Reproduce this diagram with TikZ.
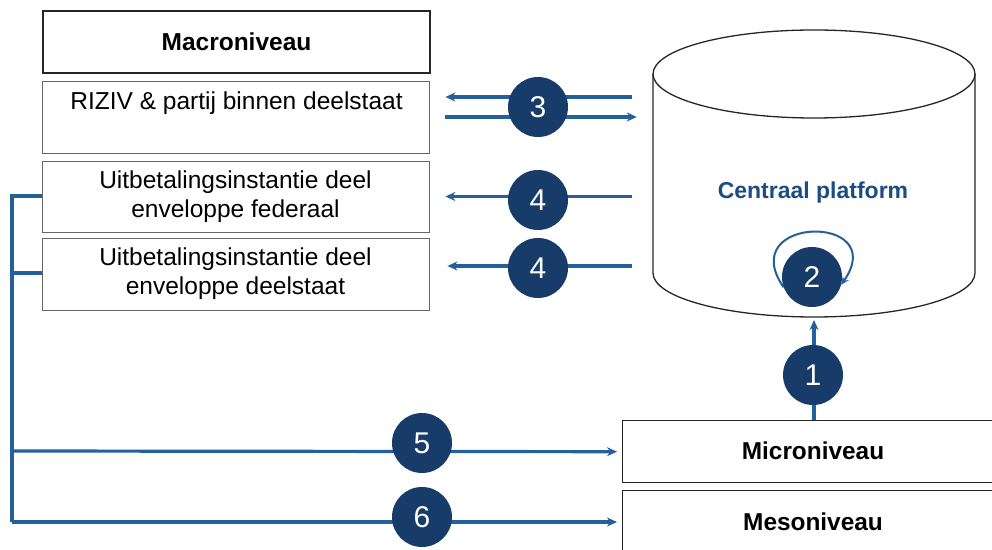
\documentclass[tikz,border=0pt]{standalone}
\usepackage{fontspec}
\setmainfont{Liberation Sans}
\usetikzlibrary{arrows.meta,calc}
\definecolor{navy}{RGB}{24,60,106}
\definecolor{lineblue}{RGB}{36,96,156}
\definecolor{txtblue}{RGB}{28,76,130}
\tikzset{
  x=1pt,y=1pt,
  titlebox/.style={draw=black!85,line width=1.4pt,minimum width=387pt,minimum height=62pt,inner sep=0pt,font=\fontsize{24.5}{28}\selectfont\bfseries},
  thinbox/.style={draw=black!60,line width=0.8pt,minimum width=387pt,inner sep=0pt,align=center,font=\fontsize{24.5}{29}\selectfont},
  lowbox/.style={draw=black!85,line width=1.4pt,minimum width=380pt,minimum height=62pt,inner sep=0pt,anchor=north west},
  lowtxt/.style={font=\fontsize{24.4}{28}\selectfont\bfseries},
  arr/.style={draw=lineblue,line width=3.2pt,-{Stealth[length=10pt,width=9pt]}},
  ln/.style={draw=lineblue,line width=3.2pt},
  num/.style={circle,fill=navy,text=white,minimum size=60pt,inner sep=0pt,font=\fontsize{30}{32}\selectfont},
  cylline/.style={draw=black!85,line width=1.3pt}
}
\begin{document}
\begin{tikzpicture}
\useasboundingbox (0,0) rectangle (992,549);
\clip (0,0) rectangle (992,549);
% left boxes
\node[titlebox] (macro) at (236.5,507) {Macroniveau};
\node[thinbox,minimum height=72pt] (riz) at (235.5,432) {};
\node[font=\fontsize{24.5}{29}\selectfont] (riztxt) at (236.5,446) {RIZIV \& partij binnen deelstaat};
\node[thinbox,minimum height=71pt] (fed) at (235.5,352.5) {Uitbetalingsinstantie deel\\enveloppe federaal};
\node[thinbox,minimum height=72pt] (deel) at (235.5,275) {Uitbetalingsinstantie deel\\enveloppe deelstaat};
% cylinder
\path[fill=white,cylline] (653,475) -- (653,276) arc[start angle=180,end angle=360,x radius=161,y radius=44] -- (975,475);
\draw[cylline] (814,475) ellipse[x radius=161,y radius=44];
\node[inner sep=0pt,minimum width=322pt,minimum height=199pt] (cyl) at (814,375.5) {};
\coordinate (cylbot) at (814,232);
\node[text=txtblue,font=\fontsize{23}{26}\selectfont\bfseries] (cp) at (813,356) {Centraal platform};
% bottom boxes
\node[lowbox] (micro) at (622,129) {};
\node[lowtxt] (microtxt) at (813,98) {Microniveau};
\node[lowbox,minimum height=80pt] (meso) at (622,59) {};
\node[lowtxt] (mesotxt) at (813,27) {Mesoniveau};
% arrows 3
\draw[arr] ([xshift=-21pt,yshift=20pt]riz.east -| cyl.west) -- ([xshift=16pt,yshift=20pt]riz.east);
\draw[arr] ([xshift=16pt]riz.east) -- ([xshift=-16pt]riz.east -| cyl.west);
% arrows 4
\draw[arr] ([xshift=-21pt]fed.east -| cyl.west) -- ([xshift=16pt]fed.east);
\draw[arr] ([xshift=-21pt,yshift=8pt]deel.east -| cyl.west) -- ([xshift=18pt,yshift=8pt]deel.east);
% arrow 1
\draw[arr] (micro.north -| cylbot) -- ([yshift=-3pt]cylbot);
% left bracket
\coordinate (lt) at (12,353);
\coordinate (lb) at (12,27);
\coordinate (lm) at (12,98);
\draw[ln] (fed.west |- lt) -- (lt) -- (lb);
\draw[ln] (deel.west) ++(0,1) -- (12,276);
\draw[arr] (lm) -- ([xshift=-5pt]micro.west);
\draw[arr] (lb) -- ([xshift=-5pt]lb -| meso.west);
% numbered circles
\node[num] (n3) at (538,442) {3};
\node[num] (n4a) at (538,349) {4};
\node[num] (n4b) at (538,281) {4};
\node[num] (n1) at (813,174) {1};
\node[num] (n5) at (422,106) {5};
\node[num] (n6) at (422,32) {6};
\node[num] (n2) at (812,272) {2};
\draw[draw=lineblue,line width=2pt,-{Stealth[length=8pt,width=7pt]}] (n2.200) .. controls +(-50,72) and +(50,72) .. (n2.-15);
\end{tikzpicture}
\end{document}
